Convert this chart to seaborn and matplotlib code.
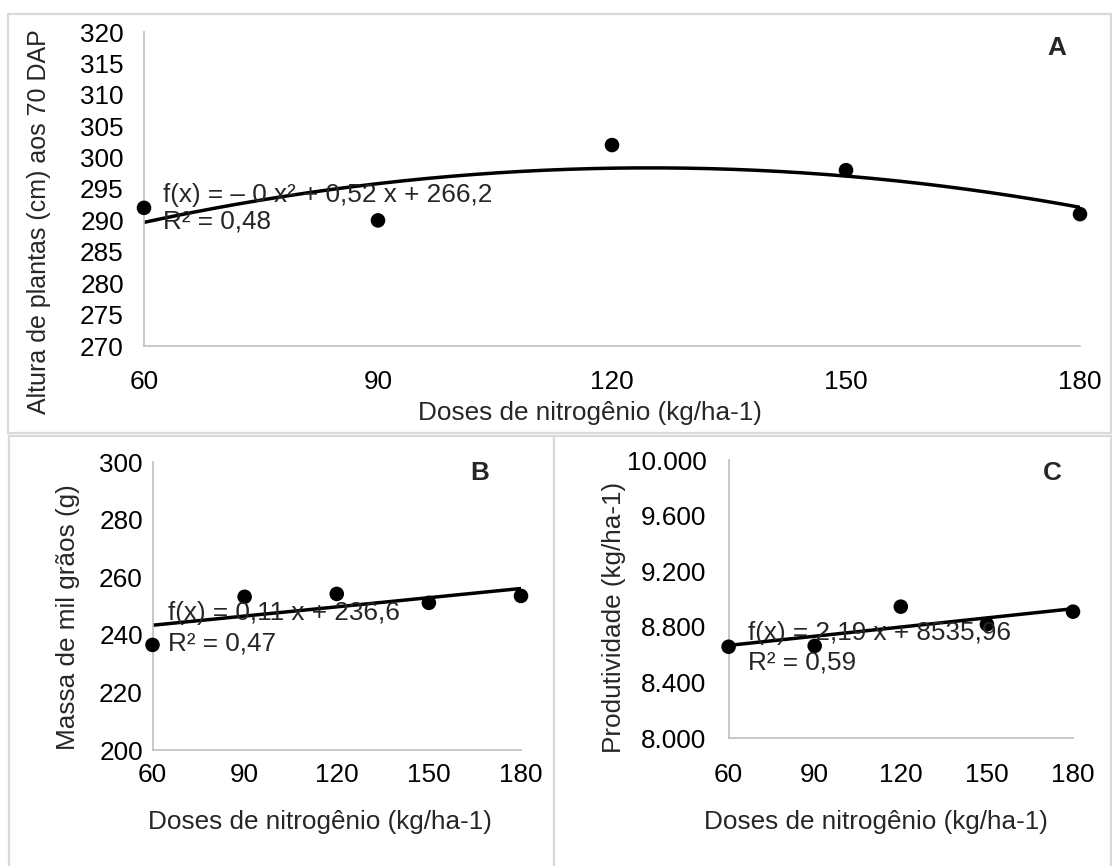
import numpy as np
import pandas as pd
import matplotlib
matplotlib.use('Agg')
import matplotlib.pyplot as plt
import seaborn as sns
from matplotlib.lines import Line2D
from matplotlib.ticker import MultipleLocator

# Dados
doses = [60, 90, 120, 150, 180]
altura = [292, 290, 302, 298, 291]
massa = [236.5, 253.2, 254.2, 251.1, 253.5]
produtividade = [8658, 8664, 8946, 8819, 8910]

eq_a = ['f(x) = – 0 x² + 0,52 x + 266,2', 'R² = 0,48']
eq_b = ['f(x) = 0,11 x + 236,6', 'R² = 0,47']
eq_c = ['f(x) = 2,19 x + 8535,96', 'R² = 0,59']

yticks_a = list(range(270, 321, 5))
yticks_b = list(range(200, 301, 20))
yticks_c = [8000, 8400, 8800, 9200, 9600, 10000]
yticklabels_c = ['8.000', '8.400', '8.800', '9.200', '9.600', '10.000']

xlabel = 'Doses de nitrogênio (kg/ha-1)'
ylabel_a = 'Altura de plantas (cm) aos 70 DAP'
ylabel_b = 'Massa de mil grãos (g)'
ylabel_c = 'Produtividade (kg/ha-1)'

sns.set_style('white')
plt.rcParams['font.family'] = ['Liberation Sans', 'DejaVu Sans']
FS = 18.8
GRAY = '#BFBFBF'

W, H = 1112, 866
fig = plt.figure(figsize=(W / 100, H / 100), dpi=100)


def px_axes(left, top, right, bottom):
    return fig.add_axes([left / W, 1 - bottom / H, (right - left) / W, (bottom - top) / H])


ax_a = px_axes(144, 32, 1080, 346)
ax_b = px_axes(152.5, 462, 521, 750)
ax_c = px_axes(728.6, 460, 1073, 738.3)


def draw_panel(ax, y, deg, ylim, yticks):
    df = pd.DataFrame({'dose': doses, 'valor': y})
    coef = np.polyfit(df['dose'], df['valor'], deg)
    xs = np.linspace(60, 180, 200)
    fit = pd.DataFrame({'dose': xs, 'valor': np.polyval(coef, xs)})
    sns.lineplot(data=fit, x='dose', y='valor', ax=ax, color='black', lw=2.5)
    sns.scatterplot(data=df, x='dose', y='valor', ax=ax, color='black', s=110,
                    edgecolor='none', zorder=3, clip_on=False)
    ax.set_xlim(60, 180)
    ax.set_ylim(*ylim)
    ax.set_xticks(doses)
    ax.set_yticks(yticks)
    for s in ['top', 'right']:
        ax.spines[s].set_visible(False)
    for s in ['left', 'bottom']:
        ax.spines[s].set_color(GRAY)
        ax.spines[s].set_linewidth(1.2)
    ax.tick_params(labelsize=FS, colors=GRAY, labelcolor='black', width=1.2, length=6)
    ax.set_xlabel('')
    ax.set_ylabel('')


draw_panel(ax_a, altura, 2, (270, 320), yticks_a)
draw_panel(ax_b, massa, 1, (200, 300), yticks_b)
draw_panel(ax_c, produtividade, 1, (8000, 10000), yticks_c)

ax_a.tick_params(axis='x', pad=11)
ax_a.tick_params(axis='y', pad=8.5)
ax_b.tick_params(length=0)
ax_b.tick_params(axis='x', pad=9)
ax_b.tick_params(axis='y', pad=7)
ax_c.set_yticklabels(yticklabels_c)
ax_c.yaxis.set_minor_locator(MultipleLocator(200))
ax_c.tick_params(axis='y', which='minor', length=6, width=1.2, colors=GRAY)
ax_c.tick_params(axis='x', pad=12)
ax_c.tick_params(axis='y', pad=10)

# rótulos dos eixos
for ax, yl, yfs, xc, yc, lx, ly in [
        (ax_a, ylabel_a, 18, 0.4765, -0.213, -0.112, 0.395),
        (ax_b, ylabel_b, FS, 0.4545, -0.25, -0.229, 0.461),
        (ax_c, ylabel_c, FS, 0.428, -0.301, -0.333, 0.436)]:
    ax.set_xlabel(xlabel, fontsize=FS, va='center')
    ax.xaxis.set_label_coords(xc, yc)
    ax.set_ylabel(yl, fontsize=yfs, va='center', ha='center')
    ax.yaxis.set_label_coords(lx, ly)

# equações e letras
for ax, eq, x0, y1, y2 in [(ax_a, eq_a, 0.0203, 0.48, 0.397),
                           (ax_b, eq_b, 0.042, 0.475, 0.371),
                           (ax_c, eq_c, 0.055, 0.378, 0.271)]:
    ax.text(x0, y1, eq[0], transform=ax.transAxes, fontsize=FS, va='center', ha='left')
    ax.text(x0, y2, eq[1], transform=ax.transAxes, fontsize=FS, va='center', ha='left')

ax_a.text((1057 - 144) / 936, (346 - 48) / 314, 'A', transform=ax_a.transAxes,
          fontsize=FS, fontweight='bold', ha='center', va='center')
ax_b.text(0.889, 0.961, 'B', transform=ax_b.transAxes,
          fontsize=FS, fontweight='bold', ha='center', va='center')
ax_c.text(0.939, 0.953, 'C', transform=ax_c.transAxes,
          fontsize=FS, fontweight='bold', ha='center', va='center')

# molduras dos painéis
BORDER = '#D9D9D9'


def hline(x0, x1, y):
    fig.add_artist(Line2D([x0 / W, x1 / W], [1 - y / H, 1 - y / H], color=BORDER, lw=1.6))


def vline(x, y0, y1):
    fig.add_artist(Line2D([x / W, x / W], [1 - y0 / H, 1 - y1 / H], color=BORDER, lw=1.6))


hline(8, 1111, 14)
hline(8, 1111, 433)
vline(8, 14, 433)
vline(1111, 14, 433)
hline(9, 1111, 436)
vline(9, 436, 866)
vline(554, 436, 866)
vline(1111, 436, 866)

fig.savefig('out.png', dpi=100)
